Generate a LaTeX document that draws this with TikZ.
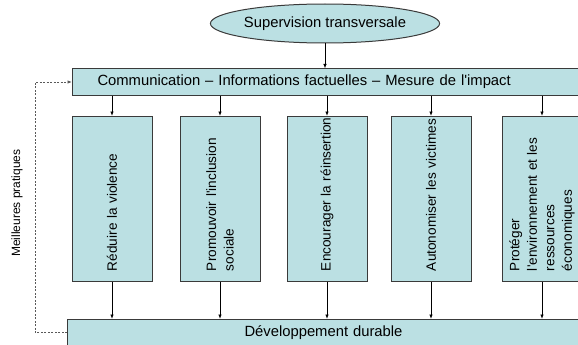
\documentclass[tikz,border=0pt]{standalone}
\usepackage{fontspec}
\setmainfont{Liberation Sans}
\usetikzlibrary{shapes.geometric,arrows.meta,calc}

\definecolor{boxfill}{HTML}{BBE0E3}
\definecolor{boxline}{HTML}{3A3A3A}

\begin{document}
\begin{tikzpicture}[x=1pt, y=-1pt,
		bar/.style={draw=boxline, fill=boxfill, line width=1pt, anchor=west,
			minimum height=26pt, inner ysep=0pt, align=left,
			font=\fontsize{14.8}{17}\selectfont},
		column/.style={draw=boxline, fill=boxfill, line width=1pt, rotate=90,
			minimum height=80pt, text width=144.5pt, inner xsep=10pt, inner ysep=0pt,
			align=left, font=\fontsize{13.6}{17.5}\selectfont},
		link/.style={-{Latex[length=4.5pt,width=3.5pt]}, line width=0.8pt},
		feedback/.style={-{Latex[length=4.5pt,width=3.5pt]}, line width=0.9pt,
			draw=black!65, dash pattern=on 2pt off 1.5pt}]
			\clip (0,0) rectangle (578,345);

			% Top of the chain
			\node[ellipse, draw=boxline, fill=boxfill, line width=1pt,
				minimum width=199pt, minimum height=39pt, inner sep=0pt,
				font=\fontsize{14.8}{17}\selectfont] (sup) at (325,23.5) {Supervision transversale};
			\node[bar, text width=560pt, inner xsep=25pt] (comm) at (72,82)
				{Communication – Informations factuelles – Mesure de l\textquotesingle impact};

			% Five fields of action
			\node[column] (reduire) at (112,198.75) {Réduire la violence};
			\node[column] (promouvoir) at (220,198.75) {Promouvoir l\textquotesingle inclusion\\sociale};
			\node[column] (encourager) at (327,198.75) {\mbox{Encourager la réinsertion}};
			\node[column] (autonomiser) at (431,198.75) {\mbox{Autonomiser les victimes}};
			\node[column] (proteger) at (542,198.75)
				{Protéger\\l\textquotesingle environnement et les\\ressources\\économiques};

			\node[bar, text width=300pt, inner xsep=177pt] (dev) at (67,332.5) {Développement durable};

			\node[rotate=90, font=\fontsize{12}{14}\selectfont] (pratiques) at (17,203) {Meilleures pratiques};

			\draw[link] (sup.south) -- (sup.south |- comm.north);

			\draw[link] (comm.south -| reduire.east) -- (reduire.east);
			\draw[link] (comm.south -| promouvoir.east) -- (promouvoir.east);
			\draw[link] (comm.south -| encourager.east) -- (encourager.east);
			\draw[link] (comm.south -| autonomiser.east) -- (autonomiser.east);
			\draw[link] (comm.south -| proteger.east) -- (proteger.east);

			\draw[link] (reduire.west) -- (reduire.west |- dev.north);
			\draw[link] (promouvoir.west) -- (promouvoir.west |- dev.north);
			\draw[link] (encourager.west) -- (encourager.west |- dev.north);
			\draw[link] (autonomiser.west) -- (autonomiser.west |- dev.north);
			\draw[link] (proteger.west) -- (proteger.west |- dev.north);

			% Loop back
			\draw[feedback] (dev.west) -- ++(-32,0) |- (comm.west);
		\end{tikzpicture}
\end{document}
